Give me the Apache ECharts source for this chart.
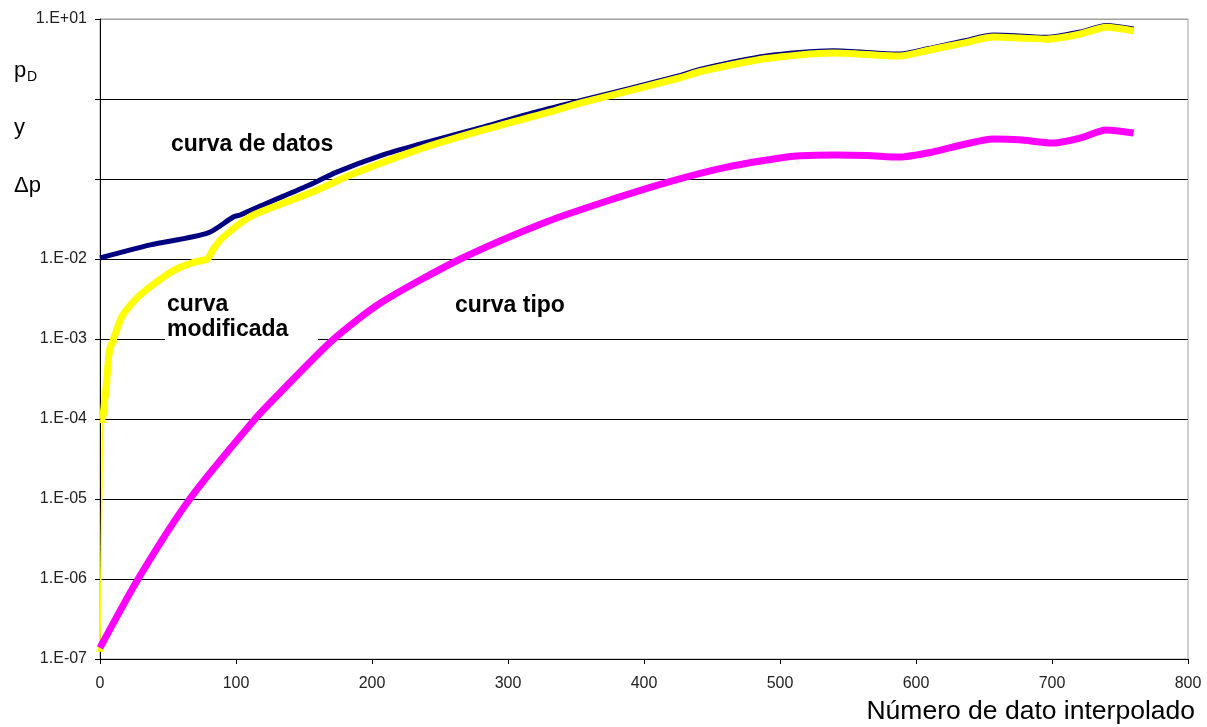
<!DOCTYPE html>
<html>
<head>
<meta charset="utf-8">
<script src="https://cdn.jsdelivr.net/npm/echarts@6/dist/echarts.min.js"></script>
<style>
html,body{margin:0;padding:0;background:#fff;}
#chart{width:1207px;height:727px;}
</style>
</head>
<body>
<div id="chart"></div>
<script>
// ---- data ----
const xTickLabels = ['0','100','200','300','400','500','600','700','800'];
const yTickLabels = {'-7':'1.E-07','-6':'1.E-06','-5':'1.E-05','-4':'1.E-04','-3':'1.E-03','-2':'1.E-02','-1':'','0':'','1':'1.E+01'};

// curva de datos (navy)
const nDatos = [0, 37, 79, 98, 103, 123, 154, 174, 208, 233, 282, 318, 353, 426, 441, 490, 539, 588, 610, 635, 657, 676, 696, 721, 740, 760];
const vDatos = [0.0103, 0.015, 0.021, 0.0335, 0.0355, 0.05, 0.084, 0.122, 0.2, 0.266, 0.447, 0.668, 0.95, 1.95, 2.35, 3.45, 4.0, 3.65, 4.3, 5.3, 6.3, 6.15, 5.9, 6.9, 8.3, 7.5];

// curva modificada (yellow)
const nModif = [0, 2, 4, 5, 6, 7, 10, 16, 26, 37, 55, 70, 79, 83, 90, 110, 135, 160, 184, 233, 282, 331, 353, 426, 441, 490, 539, 588, 610, 635, 657, 676, 696, 721, 740, 760];
const vModif = [1.38e-7, 1e-4, 2.1e-4, 3.1e-4, 5e-4, 7.3e-4, 1e-3, 1.88e-3, 3.1e-3, 4.5e-3, 7.3e-3, 9.2e-3, 1e-2, 1.3e-2, 1.83e-2, 3.35e-2, 5.0e-2, 7.3e-2, 0.112, 0.23, 0.41, 0.69, 0.89, 1.83, 2.19, 3.2, 3.76, 3.45, 4.1, 5.0, 5.96, 5.8, 5.6, 6.5, 7.9, 7.1];

// curva tipo (magenta)
const nTipo = [0, 28, 66, 114, 132, 171, 206, 265, 329, 377, 419, 460, 500, 515, 540, 564, 588, 612, 635, 657, 676, 701, 721, 740, 760];
const vTipo = [1.38e-7, 1e-6, 1e-5, 1e-4, 2.1e-4, 9.7e-4, 2.8e-3, 1e-2, 0.0295, 0.056, 0.093, 0.14, 0.183, 0.195, 0.2, 0.197, 0.188, 0.217, 0.27, 0.316, 0.309, 0.282, 0.326, 0.41, 0.376];

const pairs = (xs, ys) => xs.map((x, i) => [x, ys[i]]);
const FONT = "'Liberation Sans', Arial, sans-serif";

const chart = echarts.init(document.getElementById('chart'), null, {renderer: 'canvas'});
const gridLineColors = ['#000','#000','#000','#000','#000','#000','#000','#000','#a0a0a0'];

chart.setOption({
  animation: false,
  backgroundColor: '#fff',
  grid: {left: 100, right: 19, top: 19, bottom: 68, show: true, borderColor: '#a0a0a0', borderWidth: 1, backgroundColor: '#fff'},
  xAxis: {
    type: 'value', min: 0, max: 800, interval: 100,
    axisLine: {show: true, lineStyle: {color: '#000', width: 1}},
    axisTick: {show: true, inside: false, length: 5, lineStyle: {color: '#000'}},
    axisLabel: {show: true, margin: 17, fontSize: 16, color: '#222', fontFamily: FONT,
      formatter: (v) => xTickLabels[Math.round(v / 100)]},
    splitLine: {show: false}
  },
  yAxis: {
    type: 'log', logBase: 10, min: 1e-7, max: 10, splitNumber: 8,
    axisLine: {show: true, lineStyle: {color: '#000', width: 1}},
    axisTick: {show: true, inside: false, length: 5, lineStyle: {color: '#000'}},
    axisLabel: {show: true, margin: 13, fontSize: 16, color: '#222', fontFamily: FONT,
      formatter: (v) => { const e = Math.round(Math.log10(v)); return yTickLabels[String(e)] || ''; }},
    splitLine: {show: true, lineStyle: {color: gridLineColors, width: 1}},
    minorTick: {show: false}, minorSplitLine: {show: false}
  },
  series: [
    {
      name: 'curva de datos', type: 'line', data: pairs(nDatos, vDatos),
      showSymbol: false, smooth: 0.25, z: 3,
      lineStyle: {color: '#000080', width: 5}
    },
    {
      name: 'curva modificada (inicio)', type: 'line', data: pairs(nModif.slice(0, 2), vModif.slice(0, 2)),
      symbol: 'triangle', symbolSize: 8, showSymbol: true, showAllSymbol: true, z: 4,
      itemStyle: {color: '#ffff00'},
      lineStyle: {color: '#ffff00', width: 1.5}
    },
    {
      name: 'curva modificada', type: 'line', data: pairs(nModif.slice(1), vModif.slice(1)),
      symbol: 'triangle', showAllSymbol: true,
      symbolSize: (val) => (val[0] <= 10 ? 8 : 0),
      smooth: 0.25, z: 4,
      itemStyle: {color: '#ffff00'},
      lineStyle: {color: '#ffff00', width: 7}
    },
    {
      name: 'curva tipo', type: 'line', data: pairs(nTipo, vTipo),
      showSymbol: false, smooth: 0.25, z: 5,
      lineStyle: {color: '#ff00ff', width: 7}
    }
  ],
  graphic: [
    // white patch behind "curva modificada"
    {type: 'rect', shape: {x: 165, y: 292, width: 153, height: 52}, style: {fill: '#fff'}, z: 10},
    {type: 'text', x: 171, y: 145, z: 11, style: {text: 'curva de datos', font: 'bold 23px ' + FONT, fill: '#000', textVerticalAlign: 'middle'}},
    {type: 'text', x: 167, y: 305, z: 11, style: {text: 'curva', font: 'bold 23px ' + FONT, fill: '#000', textVerticalAlign: 'middle'}},
    {type: 'text', x: 167, y: 330, z: 11, style: {text: 'modificada', font: 'bold 23px ' + FONT, fill: '#000', textVerticalAlign: 'middle'}},
    {type: 'text', x: 455, y: 306, z: 11, style: {text: 'curva tipo', font: 'bold 23px ' + FONT, fill: '#000', textVerticalAlign: 'middle'}},
    {type: 'text', x: 14, y: 71, z: 11, style: {text: 'p', font: '22px ' + FONT, fill: '#000', textVerticalAlign: 'middle'}},
    {type: 'text', x: 27, y: 77, z: 11, style: {text: 'D', font: '14px ' + FONT, fill: '#000', textVerticalAlign: 'middle'}},
    {type: 'text', x: 14, y: 128, z: 11, style: {text: 'y', font: '22px ' + FONT, fill: '#000', textVerticalAlign: 'middle'}},
    {type: 'text', x: 14, y: 186, z: 11, style: {text: 'Δp', font: '22px ' + FONT, fill: '#000', textVerticalAlign: 'middle'}},
    {type: 'text', x: 1195, y: 712, z: 11, style: {text: 'Número de dato interpolado', font: '26.5px ' + FONT, fill: '#000', textAlign: 'right', textVerticalAlign: 'middle'}}
  ]
});
</script>
</body>
</html>
